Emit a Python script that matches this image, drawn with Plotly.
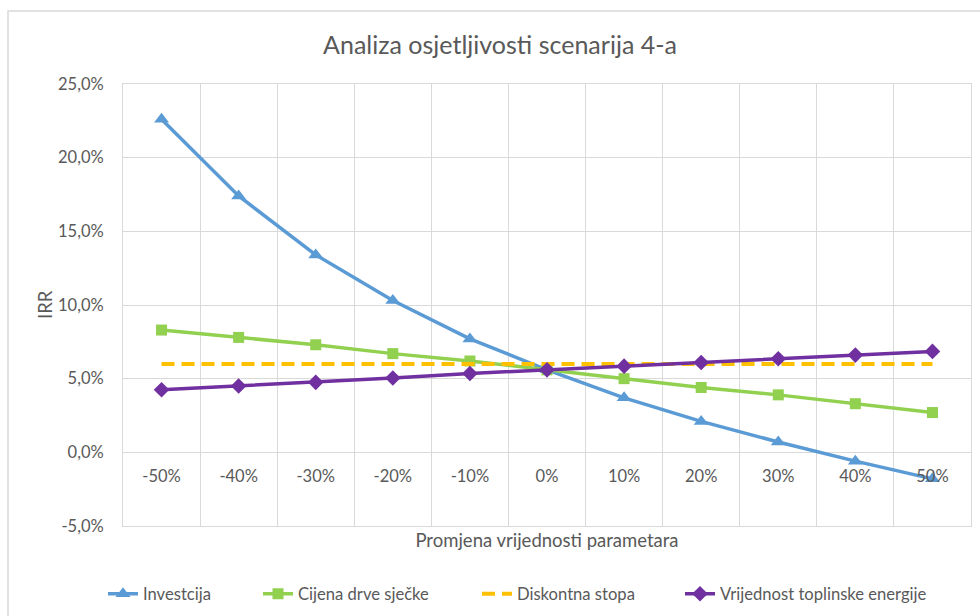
import plotly.graph_objects as go

# Sensitivity of project IRR to parameter changes
categories = ["-50%", "-40%", "-30%", "-20%", "-10%", "0%", "10%", "20%", "30%", "40%", "50%"]

investicija = [22.6, 17.4, 13.4, 10.3, 7.7, 5.6, 3.7, 2.1, 0.7, -0.6, -1.8]
cijena_sjecke = [8.3, 7.8, 7.3, 6.7, 6.2, 5.6, 5.0, 4.4, 3.9, 3.3, 2.7]
diskontna_stopa = [6.0] * 11
vrijednost_energije = [4.25, 4.5, 4.75, 5.05, 5.35, 5.6, 5.85, 6.1, 6.35, 6.6, 6.85]

y_ticks = [-5, 0, 5, 10, 15, 20, 25]
y_ticktext = [f"{v:.1f}".replace(".", ",") + "%" for v in y_ticks]

FONT = "Lato"
TEXT = "#595959"
GRID = "#D9D9D9"

pos = list(range(len(categories)))

L, R, T, B = 123, 9, 84, 90
W, H = 980, 616
plot_h = H - T - B
plot_w = W - L - R
zero_pos = (0 - (-5)) / (25 - (-5))

# Legend entries laid out left to right, each in its own legend box
legend_text_x = [145, 300, 519, 722]
legend_y = 594

fig = go.Figure()

series = [
    ("Investcija", investicija, "#5B9BD5", "triangle-up", 13, None),
    ("Cijena drve sječke", cijena_sjecke, "#92D050", "square", 11, None),
    ("Diskontna stopa", diskontna_stopa, "#FFC000", None, 0, "13px,7px"),
    ("Vrijednost toplinske energije", vrijednost_energije, "#7030A0", "diamond", 12, None),
]

for i, (name, vals, color, symbol, msize, dash) in enumerate(series):
    lg = "legend" if i == 0 else f"legend{i + 1}"
    kw = dict(
        x=pos, y=[v / 100 for v in vals], name=name, legend=lg,
        line=dict(color=color, width=4 if dash else 3.5, dash=dash or "solid"),
    )
    if symbol:
        kw["mode"] = "lines+markers"
        kw["marker"] = dict(symbol=symbol, size=msize, color=color)
    else:
        kw["mode"] = "lines"
    fig.add_trace(go.Scatter(**kw))

# Category labels sit on the zero line, via an overlaid free axis
fig.add_trace(go.Scatter(x=pos, y=[None] * len(pos), xaxis="x2", showlegend=False,
                         hoverinfo="skip"))

legend_common = dict(orientation="h", xref="container", yref="container",
                     xanchor="left", yanchor="middle", y=1 - legend_y / H,
                     font=dict(size=16.6, color=TEXT, family=FONT),
                     bgcolor="rgba(0,0,0,0)", borderwidth=0)
legends = {}
for i, tx in enumerate(legend_text_x):
    key = "legend" if i == 0 else f"legend{i + 1}"
    legends[key] = dict(legend_common, x=(tx - 42) / W)

fig.update_layout(
    width=W, height=H,
    margin=dict(l=L, r=R, t=T, b=B, autoexpand=False),
    paper_bgcolor="white", plot_bgcolor="white",
    font=dict(family=FONT, color=TEXT, size=16),
    title=dict(text="Analiza osjetljivosti scenarija 4-a", x=500 / W, xanchor="center",
               y=1 - 45 / H, yanchor="middle", xref="container", yref="container",
               font=dict(size=25, color=TEXT, family=FONT)),
    xaxis=dict(range=[-0.5, len(categories) - 0.5],
               tickvals=[i - 0.5 for i in range(len(categories) + 1)],
               showticklabels=False, showgrid=True, gridcolor=GRID, gridwidth=1,
               zeroline=False, showline=True, mirror=True, linecolor=GRID, linewidth=1,
               automargin=False,
               title=dict(text="Promjena vrijednosti parametara", standoff=8,
                          font=dict(size=18.5, color=TEXT))),
    xaxis2=dict(overlaying="x", matches="x", anchor="free", position=zero_pos,
                tickvals=pos, ticktext=categories, showgrid=False, zeroline=False,
                showline=False, ticks="", ticklabelstandoff=12, automargin=False,
                tickfont=dict(size=16.5, color=TEXT)),
    yaxis=dict(range=[-0.05, 0.25], tickvals=[v / 100 for v in y_ticks],
               ticktext=y_ticktext,
               showgrid=True, gridcolor=GRID, gridwidth=1,
               zeroline=True, zerolinecolor=GRID, zerolinewidth=1,
               showline=True, mirror=True, linecolor=GRID, linewidth=1,
               ticks="", ticklabelstandoff=15, automargin=False,
               tickfont=dict(size=16.5, color=TEXT)),
    showlegend=True,
    **legends,
)

# Y-axis title
fig.add_annotation(text="IRR", xref="paper", yref="paper", x=(45 - L) / plot_w, y=0.5,
                   xanchor="center", yanchor="middle", textangle=-90, showarrow=False,
                   font=dict(size=18.5, color=TEXT, family=FONT))

# Outer chart frame
fig.add_shape(type="rect", xref="paper", yref="paper",
              x0=(8 - L) / plot_w, x1=(W + 20 - L) / plot_w,
              y0=(H - B - (H + 20)) / plot_h, y1=(H - B - 11) / plot_h,
              line=dict(color=GRID, width=1.5), fillcolor="rgba(0,0,0,0)", layer="below")

fig.write_html("out.html")
